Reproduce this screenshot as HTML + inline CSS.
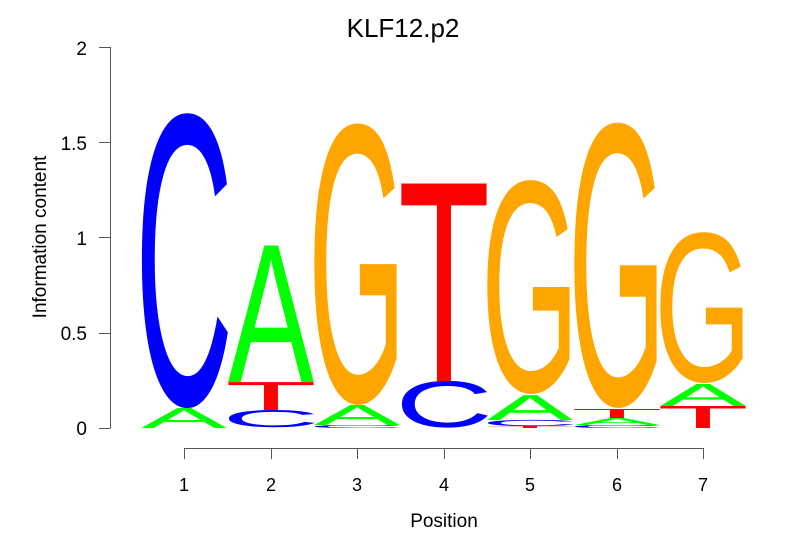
<!DOCTYPE html>
<html><head><meta charset="utf-8"><style>
html,body{margin:0;padding:0;background:#fff;}
svg{display:block;}
text{font-family:"Liberation Sans",Arial,sans-serif;}
</style></head><body>
<svg width="806" height="559" viewBox="0 0 806 559" xmlns="http://www.w3.org/2000/svg">
<rect width="806" height="559" fill="#fff"/>
<text x="403" y="37" font-size="26" text-anchor="middle">KLF12.p2</text>
<g stroke="#555" stroke-width="1" fill="none">
<line x1="110.5" y1="47" x2="110.5" y2="428"/>
<line x1="99" y1="47.5" x2="110.5" y2="47.5"/>
<line x1="99" y1="142.5" x2="110.5" y2="142.5"/>
<line x1="99" y1="237.5" x2="110.5" y2="237.5"/>
<line x1="99" y1="333.5" x2="110.5" y2="333.5"/>
<line x1="99" y1="428.5" x2="110.5" y2="428.5"/>
<line x1="184" y1="448.5" x2="703" y2="448.5"/>
<line x1="184.5" y1="448" x2="184.5" y2="459"/>
<line x1="271.5" y1="448" x2="271.5" y2="459"/>
<line x1="357.5" y1="448" x2="357.5" y2="459"/>
<line x1="444.5" y1="448" x2="444.5" y2="459"/>
<line x1="530.5" y1="448" x2="530.5" y2="459"/>
<line x1="617.5" y1="448" x2="617.5" y2="459"/>
<line x1="703.5" y1="448" x2="703.5" y2="459"/>
</g>
<g font-size="19" text-anchor="end">
<text x="87" y="55">2</text>
<text x="87" y="150">1.5</text>
<text x="87" y="245">1</text>
<text x="87" y="340">0.5</text>
<text x="87" y="435">0</text>
</g>
<g font-size="18" text-anchor="middle">
<text x="184" y="491">1</text>
<text x="271" y="491">2</text>
<text x="357" y="491">3</text>
<text x="444" y="491">4</text>
<text x="530" y="491">5</text>
<text x="617" y="491">6</text>
<text x="703" y="491">7</text>
<text x="444" y="527" font-size="19">Position</text>
<text transform="translate(46,237) rotate(-90)" font-size="19">Information content</text>
</g>
<g font-size="100">
<text x="0" y="0" textLength="86" lengthAdjust="spacingAndGlyphs" fill="#00ff00" transform="translate(141,428) scale(1,0.29)">A</text>
<text x="0" y="0" textLength="98" lengthAdjust="spacingAndGlyphs" fill="#0000ff" transform="translate(135,404) scale(1,4.165)">C</text>

<text x="0" y="0" textLength="98" lengthAdjust="spacingAndGlyphs" fill="#0000ff" transform="translate(222,427) scale(1,0.243)">C</text>
<text x="0" y="0" textLength="92" lengthAdjust="spacingAndGlyphs" fill="#ff0000" transform="translate(225,410) scale(1,0.406)">T</text>
<text x="0" y="0" textLength="86" lengthAdjust="spacingAndGlyphs" fill="#00ff00" transform="translate(228,382) scale(1,1.985)">A</text>

<text x="0" y="0" textLength="98" lengthAdjust="spacingAndGlyphs" fill="#0000ff" transform="translate(308,428) scale(1,0.043)">C</text>
<text x="0" y="0" textLength="86" lengthAdjust="spacingAndGlyphs" fill="#00ff00" transform="translate(314,425) scale(1,0.29)">A</text>
<text x="0" y="0" textLength="98" lengthAdjust="spacingAndGlyphs" fill="#ffa500" transform="translate(308,401) scale(1,3.975)">G</text>

<text x="0" y="0" textLength="98" lengthAdjust="spacingAndGlyphs" fill="#0000ff" transform="translate(395,427) scale(1,0.66)">C</text>
<text x="0" y="0" textLength="92" lengthAdjust="spacingAndGlyphs" fill="#ff0000" transform="translate(398,381) scale(1,2.87)">T</text>

<text x="0" y="0" textLength="92" lengthAdjust="spacingAndGlyphs" fill="#ff0000" transform="translate(484,428) scale(1,0.029)">T</text>
<text x="0" y="0" textLength="98" lengthAdjust="spacingAndGlyphs" fill="#0000ff" transform="translate(481,426) scale(1,0.087)">C</text>
<text x="0" y="0" textLength="86" lengthAdjust="spacingAndGlyphs" fill="#00ff00" transform="translate(487,420) scale(1,0.362)">A</text>
<text x="0" y="0" textLength="98" lengthAdjust="spacingAndGlyphs" fill="#ffa500" transform="translate(481,391) scale(1,3.02)">G</text>

<text x="0" y="0" textLength="98" lengthAdjust="spacingAndGlyphs" fill="#0000ff" transform="translate(568,428) scale(1,0.043)">C</text>
<text x="0" y="0" textLength="86" lengthAdjust="spacingAndGlyphs" fill="#00ff00" transform="translate(574,425) scale(1,0.101)">A</text>
<text x="0" y="0" textLength="92" lengthAdjust="spacingAndGlyphs" fill="#ff0000" transform="translate(571,418) scale(1,0.13)">T</text>
<text x="0" y="0" textLength="98" lengthAdjust="spacingAndGlyphs" fill="#ffa500" transform="translate(568,404) scale(1,4.03)">G</text>

<text x="0" y="0" textLength="92" lengthAdjust="spacingAndGlyphs" fill="#ff0000" transform="translate(657,428) scale(1,0.319)">T</text>
<text x="0" y="0" textLength="86" lengthAdjust="spacingAndGlyphs" fill="#00ff00" transform="translate(660,406) scale(1,0.319)">A</text>
<text x="0" y="0" textLength="98" lengthAdjust="spacingAndGlyphs" fill="#ffa500" transform="translate(654,381) scale(1,2.13)">G</text>
</g>
</svg>
</body></html>
